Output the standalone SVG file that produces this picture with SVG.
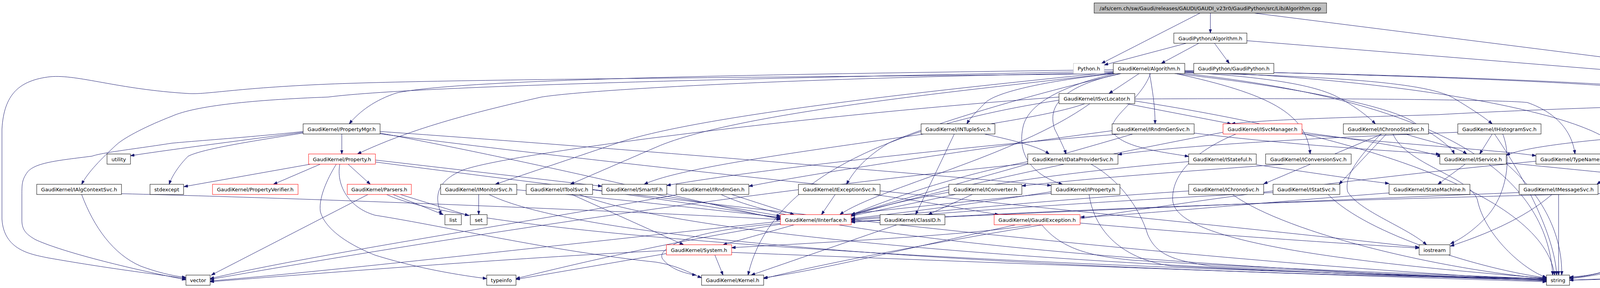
<svg xmlns="http://www.w3.org/2000/svg" width="5032" height="736" viewBox="0 0 5032 736">
<style>
.n rect{fill:#ffffff;stroke:#000000;stroke-width:1}
.n.red rect{stroke:#ff0000}
.n.gray rect{stroke:#bfbfbf}
.n.root rect{fill:#bfbfbf}
.n text{font-family:"DejaVu Sans","Liberation Sans",sans-serif;font-size:13px;text-anchor:middle;fill:#000000}
#edges path{stroke:#191970;stroke-width:1;fill:none;marker-end:url(#arr)}
</style>
<defs>
<marker id="arr" markerUnits="userSpaceOnUse" markerWidth="11" markerHeight="8" refX="10" refY="3.5" orient="auto">
<path d="M0,0 L10,3.5 L0,7 z" fill="#191970" stroke="#191970"/>
</marker>
</defs>
<rect width="5032" height="736" fill="#ffffff"/>
<g id="edges">
<path d="M3072,33.5 L2820,162"/>
<path d="M3098.5,33.5 L3098.5,84.5"/>
<path d="M3211,33.5 L4845,239.5"/>
<path d="M3037,110.5 L2827,166"/>
<path d="M3069,110.5 L2973,162"/>
<path d="M3109,110.5 L3147,162"/>
<path d="M3192,104 L4845,238"/>
<path d="M2916,188 L2839,239"/>
<path d="M2943,188 C2950,230 2957,270 2957,316.5"/>
<path d="M2850,178 C2000,190 1200,200 1017,237 C960,255 920,285 894,316.5"/>
<path d="M2852,188 C2400,195 1200,200 840,215 C600,225 530,242 482,239 C300,228 200,190 129,196 C50,205 10,240 5,330 L5,560 C10,640 80,650 123,659 C300,690 420,703 476,712"/>
<path d="M2850,182 C2200,195 1100,215 840,248 C650,255 500,270 440,297 C380,320 320,350 298,370 C260,405 225,440 209,471"/>
<path d="M2850,186 C2000,200 1500,230 1386,248 C1200,290 1050,330 915,393.5"/>
<path d="M2855,188 C2760,210 2640,250 2620,320 C2600,400 2650,450 2720,471"/>
<path d="M2868,188 C2720,220 2680,270 2700,330 C2715,360 2725,380 2729,393.5"/>
<path d="M2852,188 C2650,210 2540,240 2520,265 C2500,285 2485,300 2475,316.5"/>
<path d="M3033,186 C3400,195 3650,210 3720,250 C3770,280 3800,300 3820,316.5"/>
<path d="M3033,184 C3200,195 3340,210 3414,243 C3460,265 3500,295 3521,316.5"/>
<path d="M3010,188 C3250,240 3345,290 3354,393.5"/>
<path d="M2945,188 C2920,260 2830,300 2850,340 C2880,380 2990,390 3043,400"/>
<path d="M3033,183 C3600,200 4150,300 4150,400 C4150,440 4110,455 4088,471"/>
<path d="M3007,188 C3300,220 3560,270 3620,313 C3680,350 3715,375 3723,393.5"/>
<path d="M3033,188 C3700,260 3960,450 3975,703"/>
<path d="M2852,186 C2600,220 1900,280 1680,376 L1460,471"/>
<path d="M2852,184 C2500,220 1800,290 1579,366 L1268,471"/>
<path d="M2870,188 C2600,250 2350,330 2274,366 C2220,400 2190,430 2167,471"/>
<path d="M3033,180 C3700,195 4200,215 4300,240 C4380,290 4420,350 4444,393.5"/>
<path d="M3033,182 C3700,190 4300,220 4400,240 C4460,270 4490,300 4510,316.5"/>
<path d="M2884,265 L3152,316.5"/>
<path d="M2905,253 C3400,250 3850,255 3910,262 C3990,290 4025,340 4032,393.5"/>
<path d="M2777,265 C2600,330 1800,400 1649,471"/>
<path d="M2711,248 C2000,300 1250,400 1177,438 C1120,465 1110,500 1130,548.5"/>
<path d="M2790,265 C2600,400 2250,480 2150,548.5"/>
<path d="M2711,256 C2100,350 1950,550 1915,703"/>
<path d="M2905,258 C3500,350 3950,500 3980,703"/>
<path d="M4936,265 L4936,570 C4936,640 4900,660 4830,676 C4600,700 4200,712 4018,716"/>
<path d="M4845,255 C4500,262 4000,275 3681,293 C3450,300 3250,305 3152,316.5"/>
<path d="M875,342.5 L875,393.5"/>
<path d="M776,338 C650,355 450,380 334,398"/>
<path d="M776,340 C650,360 520,380 482,399 C460,420 440,450 433,471"/>
<path d="M776,336 C650,350 500,360 439,366 C350,380 260,390 236,399 C150,410 90,415 70,440 C56,460 56,470 56,500 L56,563 C56,590 70,600 90,612 C150,640 300,680 476,715"/>
<path d="M973,336 C1600,380 2300,440 2691,474"/>
<path d="M973,340 C1400,420 1800,520 1998,560"/>
<path d="M973,342 C1800,450 3000,560 3633,632"/>
<path d="M820,419.5 L700,471"/>
<path d="M891,419.5 L948,471"/>
<path d="M795,419.5 L471,477"/>
<path d="M961,409 L1541,476"/>
<path d="M861,419.5 C845,445 815,500 820,540 C830,580 880,620 960,652 C1050,680 1150,700 1246,712"/>
<path d="M870,419.5 C860,470 890,530 960,550 C1150,580 1400,640 1680,670 C1740,680 1770,700 1796,710"/>
<path d="M961,414 C2000,550 3200,680 3959,716"/>
<path d="M1006,497 L1135,548.5"/>
<path d="M1025,497 L1200,551"/>
<path d="M942,497 L541,703"/>
<path d="M990,497 C1200,600 2500,680 3959,712"/>
<path d="M1225.5,497 L1225.5,548.5"/>
<path d="M1323,485 C1600,510 1850,540 1998,555"/>
<path d="M1252,497 C1500,620 2600,690 3959,714"/>
<path d="M1464,497 L1750,625.5"/>
<path d="M1517,485 C1700,510 1900,540 1998,558"/>
<path d="M1483,497 C1800,620 3000,690 3959,717"/>
<path d="M1680,497 L1998,552"/>
<path d="M1873,497 L2033,548.5"/>
<path d="M1734,497 C1400,560 800,650 538,712"/>
<path d="M1846,497 C2100,620 3200,690 3959,718"/>
<path d="M2138,497 L2103,548.5"/>
<path d="M2237,497 C2400,520 2500,540 2557,548.5"/>
<path d="M2446,497 L2179,552"/>
<path d="M2489,497 L2376,548.5"/>
<path d="M2691,490 C2500,520 2300,545 2179,559"/>
<path d="M2788,497 C2800,580 2860,660 3000,680 C3400,700 3800,710 3959,714"/>
<path d="M2691,494 C2000,560 1000,680 538,718"/>
<path d="M3043,488 C2700,510 2400,540 2179,561"/>
<path d="M3155,497 C3300,600 3700,690 3959,712"/>
<path d="M3259,492 C2800,515 2400,545 2179,563"/>
<path d="M3400,497 C3500,600 3800,690 3959,710"/>
<path d="M3556,493 C3200,520 2900,550 2766,555"/>
<path d="M3973,497 C3900,560 3800,600 3713,629"/>
<path d="M3990,497 L3990,703"/>
<path d="M3889,492 C3200,520 2500,550 2179,566"/>
<path d="M4419,488 C3500,505 2600,540 2179,568"/>
<path d="M4524,497 C4480,600 4300,660 4150,690 C4080,705 4040,710 4018,712"/>
<path d="M2033,574.5 L1851,625.5"/>
<path d="M1998,571 C1750,590 1670,640 1700,666 C1720,690 1760,700 1782,703"/>
<path d="M1998,573 C1700,620 1450,680 1321,712"/>
<path d="M2296,574.5 L1923,703"/>
<path d="M1830,651.5 L1851,703"/>
<path d="M1706,648 L1321,714"/>
<path d="M1873,645 C2500,670 3300,700 3959,720"/>
<path d="M1706,640 C1300,660 800,700 538,720"/>
<path d="M2642,574.5 C2500,600 2100,620 1873,633"/>
<path d="M2667,574.5 C2720,640 2800,655 2900,665 C3300,690 3800,705 3959,713"/>
<path d="M2765,570 C3100,600 3400,620 3633,634"/>
<path d="M2600,574.5 C2300,640 2100,690 1955,710"/>
<path d="M3751,419.5 L3681,471"/>
<path d="M3856,416 C4100,440 4300,460 4419,473"/>
<path d="M3856,418 C3950,500 4000,600 3998,703"/>
<path d="M3216,421 C3350,440 3480,460 3556,469"/>
<path d="M3043,413 C2600,450 2300,510 2179,550"/>
<path d="M2631,413 C2400,460 2250,520 2179,549"/>
<path d="M2793,419.5 C2860,456 2916,526 2938,599 C2960,650 3000,665 3100,680 C3500,700 3800,708 3959,715"/>
<path d="M2631,418 C1800,500 900,650 538,714"/>
<path d="M3290,419.5 C3000,440 2800,455 2616,475"/>
<path d="M4121,419.5 C4250,500 4250,640 4150,680 C4100,700 4050,708 4018,710"/>
<path d="M3932,412 C3000,500 2200,650 1955,712"/>
<path d="M4480,419.5 L4512,471"/>
<path d="M4369,410 C4250,450 4240,560 4200,640 C4150,690 4080,705 4018,708"/>
<path d="M4680,419.5 L4580,471"/>
<path d="M4728,419.5 C4770,500 4790,600 4760,650 C4700,690 4300,705 4018,716"/>
<path d="M4419,335 C4100,350 3900,375 3856,397"/>
<path d="M4551,342.5 L4669,393.5"/>
<path d="M2520,342.5 C2600,360 2660,375 2686,393.5"/>
<path d="M2443,342.5 L2344,548.5"/>
<path d="M3732,338 C3300,355 3000,375 2862,395"/>
<path d="M3820,342.5 L3788,393.5"/>
<path d="M3598,342.5 C3650,360 3730,375 3755,393.5"/>
<path d="M3847,342.5 C3870,400 3860,500 3800,560 C3760,600 3730,615 3713,623"/>
<path d="M3826,342.5 C3900,450 3980,600 3985,703"/>
<path d="M3538,342.5 L3235,470"/>
<path d="M3549,342.5 L3428,471"/>
<path d="M3535,342.5 C3480,400 3440,450 3450,490 C3480,540 3600,580 3652,625.5"/>
<path d="M3566,342.5 C3600,420 3760,450 3782,510 C3800,600 3900,690 3959,709"/>
<path d="M2847,334 C2500,380 2100,440 1917,476"/>
<path d="M2868,342.5 C2400,380 1900,440 1707,474"/>
<path d="M2900,342.5 C2600,430 2300,510 2179,548.5"/>
<path d="M3056,340 C3300,370 3550,385 3686,394"/>
<path d="M3333,338 C3500,360 3600,375 3690,400"/>
<path d="M3333,342 C3600,370 3850,385 3932,398"/>
<path d="M3164,342.5 C3050,390 3000,450 3002,510 C3005,600 3300,660 3959,711"/>
<path d="M3131,338 C2700,420 2300,510 2179,552"/>
<path d="M209,497 C240,580 290,650 360,680 C400,695 440,705 476,709"/>
<path d="M311,495 C900,510 1600,540 1998,561"/>
</g>
<g id="n_root" class="n root"><rect x="2801" y="7.5" width="595" height="26"/><text x="3098.5" y="25.5">/afs/cern.ch/sw/Gaudi/releases/GAUDI/GAUDI_v23r0/GaudiPython/src/Lib/Algorithm.cpp</text></g>
<g id="n_gpalg" class="n"><rect x="3005" y="84.5" width="187" height="26"/><text x="3098.5" y="102.5">GaudiPython/Algorithm.h</text></g>
<g id="n_python" class="n gray"><rect x="2748" y="162" width="79" height="26"/><text x="2787.5" y="180">Python.h</text></g>
<g id="n_alg" class="n"><rect x="2850" y="162" width="183" height="26"/><text x="2941.5" y="180">GaudiKernel/Algorithm.h</text></g>
<g id="n_gpgp" class="n"><rect x="3056" y="162" width="205" height="26"/><text x="3158.5" y="180">GaudiPython/GaudiPython.h</text></g>
<g id="n_svcloc" class="n"><rect x="2711" y="239" width="194" height="26"/><text x="2808" y="257">GaudiKernel/ISvcLocator.h</text></g>
<g id="n_boot" class="n"><rect x="4845" y="239" width="182" height="26"/><text x="4936" y="257">GaudiKernel/Bootstrap.h</text></g>
<g id="n_propmgr" class="n"><rect x="776" y="316.5" width="197" height="26"/><text x="874.5" y="334.5">GaudiKernel/PropertyMgr.h</text></g>
<g id="n_ntuple" class="n"><rect x="2358" y="316.5" width="189" height="26"/><text x="2452.5" y="334.5">GaudiKernel/INTupleSvc.h</text></g>
<g id="n_rndmsvc" class="n"><rect x="2847" y="316.5" width="210" height="26"/><text x="2952" y="334.5">GaudiKernel/IRndmGenSvc.h</text></g>
<g id="n_svcmgr" class="n red"><rect x="3131" y="316.5" width="202" height="26"/><text x="3232" y="334.5">GaudiKernel/ISvcManager.h</text></g>
<g id="n_chronostat" class="n"><rect x="3439" y="316.5" width="218" height="26"/><text x="3548" y="334.5">GaudiKernel/IChronoStatSvc.h</text></g>
<g id="n_histo" class="n"><rect x="3732" y="316.5" width="213" height="26"/><text x="3838.5" y="334.5">GaudiKernel/IHistogramSvc.h</text></g>
<g id="n_auditorsvc" class="n"><rect x="4419" y="316.5" width="192" height="26"/><text x="4515" y="334.5">GaudiKernel/IAuditorSvc.h</text></g>
<g id="n_utility" class="n"><rect x="274" y="393.5" width="60" height="26"/><text x="304" y="411.5">utility</text></g>
<g id="n_property" class="n red"><rect x="790" y="393.5" width="171" height="26"/><text x="875.5" y="411.5">GaudiKernel/Property.h</text></g>
<g id="n_dataprov" class="n"><rect x="2631" y="393.5" width="231" height="26"/><text x="2746.5" y="411.5">GaudiKernel/IDataProviderSvc.h</text></g>
<g id="n_stateful" class="n"><rect x="3043" y="393.5" width="173" height="26"/><text x="3129.5" y="411.5">GaudiKernel/IStateful.h</text></g>
<g id="n_convsvc" class="n"><rect x="3240" y="393.5" width="219" height="26"/><text x="3349.5" y="411.5">GaudiKernel/IConversionSvc.h</text></g>
<g id="n_service" class="n"><rect x="3686" y="393.5" width="170" height="26"/><text x="3771" y="411.5">GaudiKernel/IService.h</text></g>
<g id="n_tns" class="n"><rect x="3932" y="393.5" width="225" height="26"/><text x="4044.5" y="411.5">GaudiKernel/TypeNameString.h</text></g>
<g id="n_ialg" class="n"><rect x="4369" y="393.5" width="186" height="26"/><text x="4462" y="411.5">GaudiKernel/IAlgorithm.h</text></g>
<g id="n_auditor" class="n"><rect x="4630" y="393.5" width="168" height="26"/><text x="4714" y="411.5">GaudiKernel/IAuditor.h</text></g>
<g id="n_algctx" class="n"><rect x="94" y="471" width="217" height="26"/><text x="202.5" y="489">GaudiKernel/IAlgContextSvc.h</text></g>
<g id="n_stdexcept" class="n"><rect x="384" y="471" width="86" height="26"/><text x="427" y="489">stdexcept</text></g>
<g id="n_propver" class="n red"><rect x="544" y="471" width="219" height="26"/><text x="653.5" y="489">GaudiKernel/PropertyVerifier.h</text></g>
<g id="n_parsers" class="n red"><rect x="889" y="471" width="164" height="26"/><text x="971" y="489">GaudiKernel/Parsers.h</text></g>
<g id="n_monitor" class="n"><rect x="1128" y="471" width="195" height="26"/><text x="1225.5" y="489">GaudiKernel/IMonitorSvc.h</text></g>
<g id="n_toolsvc" class="n"><rect x="1347" y="471" width="170" height="26"/><text x="1432" y="489">GaudiKernel/IToolSvc.h</text></g>
<g id="n_smartif" class="n"><rect x="1541" y="471" width="166" height="26"/><text x="1624" y="489">GaudiKernel/SmartIF.h</text></g>
<g id="n_rndmgen" class="n"><rect x="1731" y="471" width="186" height="26"/><text x="1824" y="489">GaudiKernel/IRndmGen.h</text></g>
<g id="n_excsvc" class="n"><rect x="2044" y="471" width="209" height="26"/><text x="2148.5" y="489">GaudiKernel/IExceptionSvc.h</text></g>
<g id="n_conv" class="n"><rect x="2429" y="471" width="187" height="26"/><text x="2522.5" y="489">GaudiKernel/IConverter.h</text></g>
<g id="n_iprop" class="n"><rect x="2691" y="471" width="176" height="26"/><text x="2779" y="489">GaudiKernel/IProperty.h</text></g>
<g id="n_chrono" class="n"><rect x="3043" y="471" width="192" height="26"/><text x="3139" y="489">GaudiKernel/IChronoSvc.h</text></g>
<g id="n_stat" class="n"><rect x="3259" y="471" width="171" height="26"/><text x="3344.5" y="489">GaudiKernel/IStatSvc.h</text></g>
<g id="n_statemachine" class="n"><rect x="3556" y="471" width="207" height="26"/><text x="3659.5" y="489">GaudiKernel/StateMachine.h</text></g>
<g id="n_msgsvc" class="n"><rect x="3889" y="471" width="202" height="26"/><text x="3990" y="489">GaudiKernel/IMessageSvc.h</text></g>
<g id="n_named" class="n"><rect x="4419" y="471" width="227" height="26"/><text x="4532.5" y="489">GaudiKernel/INamedInterface.h</text></g>
<g id="n_list" class="n"><rect x="1139" y="548.5" width="42" height="26"/><text x="1160" y="566.5">list</text></g>
<g id="n_set" class="n"><rect x="1204" y="548.5" width="43" height="26"/><text x="1225.5" y="566.5">set</text></g>
<g id="n_iinterface" class="n red"><rect x="1998" y="548.5" width="181" height="26"/><text x="2088.5" y="566.5">GaudiKernel/IInterface.h</text></g>
<g id="n_classid" class="n"><rect x="2253" y="548.5" width="166" height="26"/><text x="2336" y="566.5">GaudiKernel/ClassID.h</text></g>
<g id="n_gexc" class="n red"><rect x="2545" y="548.5" width="220" height="26"/><text x="2655" y="566.5">GaudiKernel/GaudiException.h</text></g>
<g id="n_system" class="n red"><rect x="1706" y="625.5" width="167" height="26"/><text x="1789.5" y="643.5">GaudiKernel/System.h</text></g>
<g id="n_iostream" class="n"><rect x="3633" y="625.5" width="79" height="26"/><text x="3672.5" y="643.5">iostream</text></g>
<g id="n_vector" class="n"><rect x="476" y="703" width="62" height="26"/><text x="507" y="721">vector</text></g>
<g id="n_typeinfo" class="n"><rect x="1246" y="703" width="75" height="26"/><text x="1283.5" y="721">typeinfo</text></g>
<g id="n_kernel" class="n"><rect x="1796" y="703" width="159" height="26"/><text x="1875.5" y="721">GaudiKernel/Kernel.h</text></g>
<g id="n_string" class="n"><rect x="3959" y="703" width="59" height="26"/><text x="3988.5" y="721">string</text></g>
</svg>
